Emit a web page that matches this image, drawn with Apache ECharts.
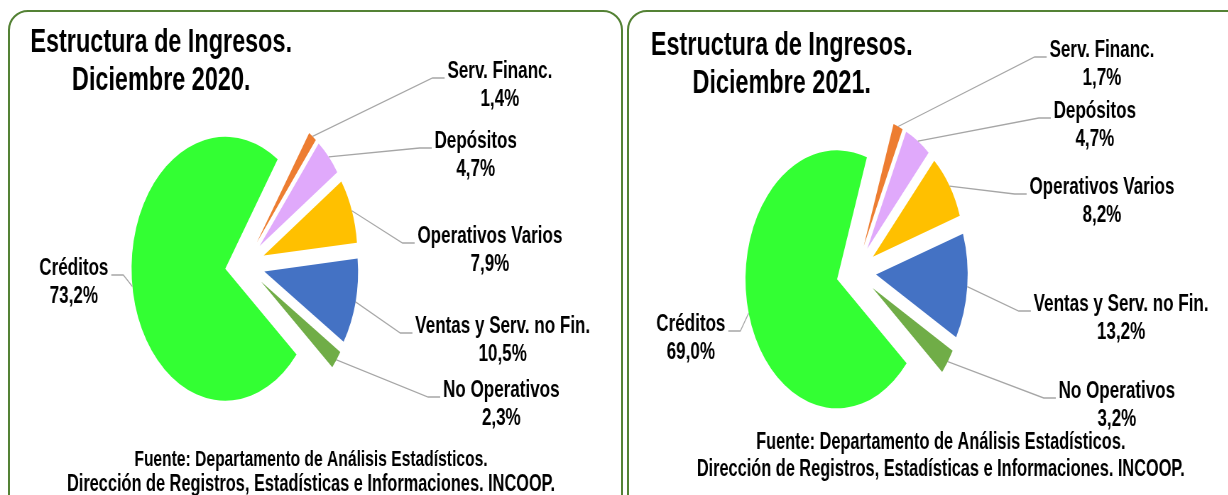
<!DOCTYPE html>
<html>
<head>
<meta charset="utf-8">
<script src="https://cdn.jsdelivr.net/npm/echarts@6.0.0/dist/echarts.min.js"></script>
<style>
html, body { margin: 0; padding: 0; background: #fff; overflow: hidden; }
#wrap { position: relative; width: 1228px; height: 495px; overflow: hidden; }
.panel { position: absolute; top: 10px; height: 560px; border: 2px solid #548235; border-radius: 20px; box-sizing: border-box; }
/* el grafico original esta comprimido a lo ancho: se dibuja ancho y se escala */
#main { position: absolute; left: 0; top: 0; width: 1730px; height: 495px; transform: scaleX(0.71); transform-origin: 0 0; }
</style>
</head>
<body>
<div id="wrap">
  <div class="panel" style="left:8px; width:615px;"></div>
  <div class="panel" style="left:627px; width:640px;"></div>
  <div id="main"></div>
</div>
<script>
// datos
var categorias = ['Serv. Financ.', 'Depósitos', 'Operativos Varios', 'Ventas y Serv. no Fin.', 'No Operativos', 'Créditos'];
var valores2020 = [1.4, 4.7, 7.9, 10.5, 2.3, 73.2];
var valores2021 = [1.7, 4.7, 8.2, 13.2, 3.2, 69.0];
var titulo2020 = 'Estructura de Ingresos.\nDiciembre 2020.';
var titulo2021 = 'Estructura de Ingresos.\nDiciembre 2021.';
var fuente = ['Fuente: Departamento de Análisis Estadísticos.',
              'Dirección de Registros, Estadísticas e Informaciones. INCOOP.'];

var colores = ['#ED7D31', '#E0A9FB', '#FFC000', '#4472C4', '#70AD47', '#33FF33'];
var FUENTE_TXT = '"Liberation Sans", Arial, sans-serif';
var FONT_ETQ = 'bold 24px ' + FUENTE_TXT;
var SEPARACION = 28;   // desplazamiento de las porciones (explode)

// posiciones de las etiquetas (centro del bloque, px, espacio sin escalar)
var posEtiq2020 = [[704, 85], [670, 155], [690, 250], [708, 340], [706, 404], [104, 282]];
var posEtiq2021 = [[1552, 64], [1542, 125], [1552, 201], [1579, 318], [1573, 405], [973, 338]];

var torta2020 = { centro: [345, 265], radio: 132, inicio: 56 };
var torta2021 = { centro: [1206, 272], radio: 129, inicio: 71 };

function formatoPct(v) {
	return v.toFixed(1).replace('.', ',') + '%';
}

var medidor = document.createElement('canvas').getContext('2d');
function anchoTexto(t, font) {
	medidor.font = font;
	return medidor.measureText(t).width;
}

function serieTorta(valores, t) {
	return {
		type: 'pie',
		center: t.centro,
		radius: t.radio,
		startAngle: t.inicio,
		clockwise: true,
		selectedMode: 'multiple',
		selectedOffset: SEPARACION,
		animation: false,
		silent: true,
		emphasis: { disabled: true },
		label: { show: false },
		labelLine: { show: false },
		data: categorias.map(function (n, i) {
			return { name: n, value: valores[i], selected: true, itemStyle: { color: colores[i] } };
		})
	};
}

// punto del borde exterior de cada porcion (a mitad del angulo), igual que el layout de pie
function anclasTorta(valores, t) {
	var total = valores.reduce(function (a, b) { return a + b; }, 0);
	var ang = -t.inicio * Math.PI / 180;
	var r = t.radio + SEPARACION;
	return valores.map(function (v) {
		var arco = v / total * Math.PI * 2;
		var medio = ang + arco / 2;
		ang += arco;
		return [t.centro[0] + r * Math.cos(medio), t.centro[1] + r * Math.sin(medio)];
	});
}

function texto(t, x, y, size, lh, va) {
	return {
		type: 'text',
		x: x,
		y: y,
		z: 10,
		style: {
			text: t,
			align: 'center',
			verticalAlign: va,
			fill: '#000',
			font: 'bold ' + size + 'px ' + FUENTE_TXT,
			lineHeight: lh
		}
	};
}

function etiquetas(valores, t, pos) {
	var anclas = anclasTorta(valores, t);
	var els = [];
	categorias.forEach(function (n, i) {
		var pct = formatoPct(valores[i]);
		var w = Math.max(anchoTexto(n, FONT_ETQ), anchoTexto(pct, FONT_ETQ));
		var p = pos[i];
		var izq = p[0] < t.centro[0];
		var ay = p[1] - 7;
		var ax = izq ? p[0] + w / 2 + 4 : p[0] - w / 2 - 4;
		var codo = [izq ? ax + 17 : ax - 17, ay];
		els.push({
			type: 'polyline',
			z: 5,
			shape: { points: [anclas[i], codo, [ax, ay]] },
			style: { stroke: '#A6A6A6', lineWidth: 1.3, fill: null }
		});
		els.push(texto(n + '\n' + pct, p[0], p[1], 24, 28, 'middle'));
	});
	return els;
}

var chart = echarts.init(document.getElementById('main'), null, { renderer: 'canvas' });
chart.setOption({
	backgroundColor: 'transparent',
	graphic: [
		texto(titulo2020, 227, 24, 33, 38, 'top'),
		texto(titulo2021, 1101, 27, 33, 38, 'top'),
		texto(fuente[0], 438, 460, 22, 24, 'middle'),
		texto(fuente[1], 438, 485, 23, 24, 'middle'),
		texto(fuente[0], 1325, 443, 23, 24, 'middle'),
		texto(fuente[1], 1325, 470, 23, 24, 'middle')
	].concat(etiquetas(valores2020, torta2020, posEtiq2020))
	 .concat(etiquetas(valores2021, torta2021, posEtiq2021)),
	series: [
		serieTorta(valores2020, torta2020),
		serieTorta(valores2021, torta2021)
	]
});
</script>
</body>
</html>
